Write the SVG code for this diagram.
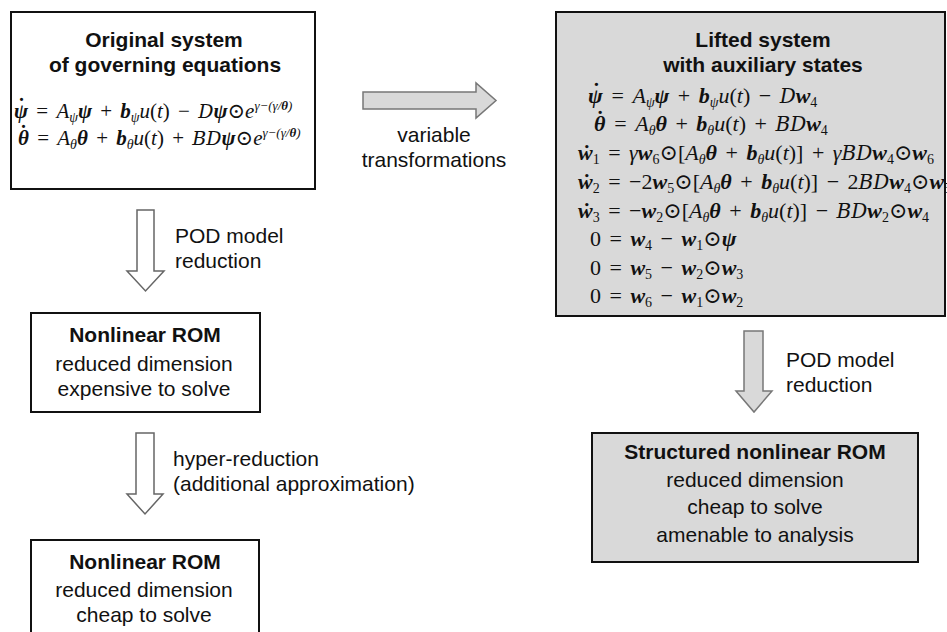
<svg xmlns="http://www.w3.org/2000/svg" width="947" height="632" viewBox="0 0 947 632">
<style>
.t{font-family:"Liberation Sans",Arial,sans-serif;font-size:21px;fill:#111}
.c{text-anchor:middle}
.b{font-weight:bold}
.box{fill:#fff;stroke:#111;stroke-width:2}
.gbox{fill:#d9d9d9;stroke:#111;stroke-width:2}
.wa{fill:#fff;stroke:#666;stroke-width:1.5}
.ga{fill:#d9d9d9;stroke:#777;stroke-width:1.5}
.m{font-family:"Liberation Serif","DejaVu Serif",serif;font-size:21px;font-style:italic;fill:#111;word-spacing:3px}
.m2{font-size:22px}
.v{font-weight:bold;font-style:italic}
.r{font-style:normal}
.sub{font-size:14px;baseline-shift:-4px}
.sup{font-size:13px;baseline-shift:8px;font-style:italic}
.dot{font-weight:bold;font-style:normal;baseline-shift:5px}
.cal{font-family:"DejaVu Serif","Liberation Serif",serif;font-style:italic;font-size:19px}
.m2 .cal{font-size:20px}
</style>

<g id="connectors">
  <g id="arrow-transform">
    <polygon class="ga" points="363,92 476,92 476,83 496,100.5 476,118 476,109 363,109"/>
    <text class="t c" x="434" y="142">variable</text>
    <text class="t c" x="434" y="167">transformations</text>
  </g>
  <g id="arrow-pod-left">
    <polygon class="wa" points="137,210 154,210 154,271 164,271 145.5,291 127,271 137,271"/>
    <text class="t" x="175" y="243">POD model</text>
    <text class="t" x="175" y="268">reduction</text>
  </g>
  <g id="arrow-hyper">
    <polygon class="wa" points="136,433 154,433 154,494 163,494 145,514 127,494 136,494"/>
    <text class="t" x="173" y="466">hyper-reduction</text>
    <text class="t" x="173" y="491">(additional approximation)</text>
  </g>
  <g id="arrow-pod-right">
    <polygon class="ga" points="744,331 763,331 763,391 772,391 754,412 736,391 744,391"/>
    <text class="t" x="786" y="367">POD model</text>
    <text class="t" x="786" y="392">reduction</text>
  </g>
</g>

<g id="original-system">
  <rect class="box" x="11" y="12" width="304" height="177"/>
  <text class="t b c" x="164" y="47">Original system</text>
  <text class="t b c" x="165" y="72">of governing equations</text>
  <text class="m" x="14" y="118"><tspan class="v">ψ</tspan><tspan class="dot" dx="-10">˙</tspan><tspan class="r" dx="3"> = </tspan>A<tspan class="sub">ψ</tspan><tspan class="v">ψ</tspan><tspan class="r"> + </tspan><tspan class="v">b</tspan><tspan class="sub">ψ</tspan>u<tspan class="r">(</tspan>t<tspan class="r">) − </tspan><tspan class="cal">D</tspan><tspan class="v">ψ</tspan><tspan class="r">⊙</tspan>e<tspan class="sup">γ−(γ/<tspan class="v">θ</tspan>)</tspan></text>
  <text class="m" x="18" y="145"><tspan class="v">θ</tspan><tspan class="dot" dx="-9">˙</tspan><tspan class="r" dx="2"> = </tspan>A<tspan class="sub">θ</tspan><tspan class="v">θ</tspan><tspan class="r"> + </tspan><tspan class="v">b</tspan><tspan class="sub">θ</tspan>u<tspan class="r">(</tspan>t<tspan class="r">) + </tspan><tspan class="cal">BD</tspan><tspan class="v">ψ</tspan><tspan class="r">⊙</tspan>e<tspan class="sup">γ−(γ/<tspan class="v">θ</tspan>)</tspan></text>
</g>

<g id="lifted-system">
  <rect class="gbox" x="556" y="12" width="389" height="304"/>
  <text class="t b c" x="763" y="47">Lifted system</text>
  <text class="t b c" x="763" y="72">with auxiliary states</text>
  <text class="m m2" x="588" y="103"><tspan class="v">ψ</tspan><tspan class="dot" dx="-10">˙</tspan><tspan class="r" dx="3"> = </tspan>A<tspan class="sub">ψ</tspan><tspan class="v">ψ</tspan><tspan class="r"> + </tspan><tspan class="v">b</tspan><tspan class="sub">ψ</tspan>u<tspan class="r">(</tspan>t<tspan class="r">) − </tspan><tspan class="cal">D</tspan><tspan class="v">w</tspan><tspan class="sub r">4</tspan></text>
  <text class="m m2" x="594" y="131"><tspan class="v">θ</tspan><tspan class="dot" dx="-9">˙</tspan><tspan class="r" dx="2"> = </tspan>A<tspan class="sub">θ</tspan><tspan class="v">θ</tspan><tspan class="r"> + </tspan><tspan class="v">b</tspan><tspan class="sub">θ</tspan>u<tspan class="r">(</tspan>t<tspan class="r">) + </tspan><tspan class="cal">BD</tspan><tspan class="v">w</tspan><tspan class="sub r">4</tspan></text>
  <text class="m m2" x="578" y="160"><tspan class="v">ẇ</tspan><tspan class="sub r">1</tspan><tspan class="r"> = </tspan>γ<tspan class="v">w</tspan><tspan class="sub r">6</tspan><tspan class="r">⊙[</tspan>A<tspan class="sub">θ</tspan><tspan class="v">θ</tspan><tspan class="r"> + </tspan><tspan class="v">b</tspan><tspan class="sub">θ</tspan>u<tspan class="r">(</tspan>t<tspan class="r">)] + </tspan>γ<tspan class="cal">BD</tspan><tspan class="v">w</tspan><tspan class="sub r">4</tspan><tspan class="r">⊙</tspan><tspan class="v">w</tspan><tspan class="sub r">6</tspan></text>
  <text class="m m2" x="578" y="189"><tspan class="v">ẇ</tspan><tspan class="sub r">2</tspan><tspan class="r"> = −2</tspan><tspan class="v">w</tspan><tspan class="sub r">5</tspan><tspan class="r">⊙[</tspan>A<tspan class="sub">θ</tspan><tspan class="v">θ</tspan><tspan class="r"> + </tspan><tspan class="v">b</tspan><tspan class="sub">θ</tspan>u<tspan class="r">(</tspan>t<tspan class="r">)] − 2</tspan><tspan class="cal">BD</tspan><tspan class="v">w</tspan><tspan class="sub r">4</tspan><tspan class="r">⊙</tspan><tspan class="v">w</tspan><tspan class="sub r">5</tspan></text>
  <text class="m m2" x="578" y="218"><tspan class="v">ẇ</tspan><tspan class="sub r">3</tspan><tspan class="r"> = −</tspan><tspan class="v">w</tspan><tspan class="sub r">2</tspan><tspan class="r">⊙[</tspan>A<tspan class="sub">θ</tspan><tspan class="v">θ</tspan><tspan class="r"> + </tspan><tspan class="v">b</tspan><tspan class="sub">θ</tspan>u<tspan class="r">(</tspan>t<tspan class="r">)] − </tspan><tspan class="cal">BD</tspan><tspan class="v">w</tspan><tspan class="sub r">2</tspan><tspan class="r">⊙</tspan><tspan class="v">w</tspan><tspan class="sub r">4</tspan></text>
  <text class="m m2" x="590" y="246"><tspan class="r">0 = </tspan><tspan class="v">w</tspan><tspan class="sub r">4</tspan><tspan class="r"> − </tspan><tspan class="v">w</tspan><tspan class="sub r">1</tspan><tspan class="r">⊙</tspan><tspan class="v">ψ</tspan></text>
  <text class="m m2" x="590" y="275"><tspan class="r">0 = </tspan><tspan class="v">w</tspan><tspan class="sub r">5</tspan><tspan class="r"> − </tspan><tspan class="v">w</tspan><tspan class="sub r">2</tspan><tspan class="r">⊙</tspan><tspan class="v">w</tspan><tspan class="sub r">3</tspan></text>
  <text class="m m2" x="590" y="303"><tspan class="r">0 = </tspan><tspan class="v">w</tspan><tspan class="sub r">6</tspan><tspan class="r"> − </tspan><tspan class="v">w</tspan><tspan class="sub r">1</tspan><tspan class="r">⊙</tspan><tspan class="v">w</tspan><tspan class="sub r">2</tspan></text>
</g>

<g id="nonlinear-rom-expensive">
  <rect class="box" x="31" y="313" width="229" height="99"/>
  <text class="t b c" x="145" y="342">Nonlinear ROM</text>
  <text class="t c" x="144" y="371">reduced dimension</text>
  <text class="t c" x="144" y="396">expensive to solve</text>
</g>

<g id="nonlinear-rom-cheap">
  <rect class="box" x="31" y="540" width="228" height="100"/>
  <text class="t b c" x="145" y="569">Nonlinear ROM</text>
  <text class="t c" x="144" y="597">reduced dimension</text>
  <text class="t c" x="144" y="622">cheap to solve</text>
</g>

<g id="structured-rom">
  <rect class="gbox" x="592" y="433" width="326" height="129"/>
  <text class="t b c" x="755" y="459">Structured nonlinear ROM</text>
  <text class="t c" x="755" y="487">reduced dimension</text>
  <text class="t c" x="755" y="514">cheap to solve</text>
  <text class="t c" x="755" y="542">amenable to analysis</text>
</g>
</svg>
